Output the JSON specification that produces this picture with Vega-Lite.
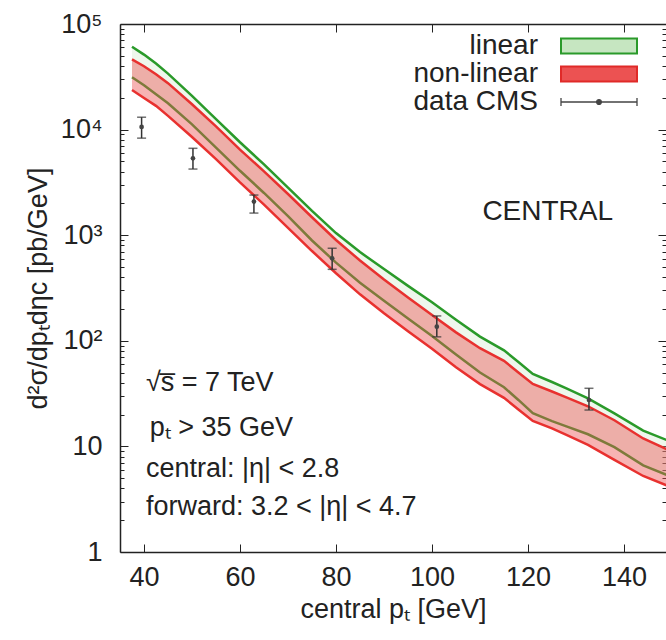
{
  "$schema": "https://vega.github.io/schema/vega-lite/v6.json",
  "width": 546,
  "height": 528,
  "autosize": {"type": "none"},
  "padding": {"left": 120, "top": 24, "right": 0, "bottom": 88},
  "background": "white",
  "config": {
    "view": {"stroke": null},
    "font": "Liberation Sans",
    "axis": {"labelColor": "#222", "titleColor": "#222", "tickColor": "#222", "domainColor": "#222", "grid": false, "titleFontWeight": "normal"},
    "text": {"font": "Liberation Sans"}
  },
  "datasets": {
    "bands": [
      {"pt": 37.5, "lin_hi": 60950, "nl_hi": 46240, "lin_lo": 31260, "nl_lo": 23710},
      {"pt": 40, "lin_hi": 51290, "nl_hi": 39810, "lin_lo": 26300, "nl_lo": 19950},
      {"pt": 42.5, "lin_hi": 42170, "nl_hi": 33500, "lin_lo": 21630, "nl_lo": 16790},
      {"pt": 45, "lin_hi": 33880, "nl_hi": 27540, "lin_lo": 17780, "nl_lo": 13490},
      {"pt": 50, "lin_hi": 20890, "nl_hi": 17380, "lin_lo": 11220, "nl_lo": 8511},
      {"pt": 55, "lin_hi": 12590, "nl_hi": 10720, "lin_lo": 6761, "nl_lo": 5248},
      {"pt": 60, "lin_hi": 7586, "nl_hi": 6457, "lin_lo": 4074, "nl_lo": 3162},
      {"pt": 65, "lin_hi": 4677, "nl_hi": 4027, "lin_lo": 2512, "nl_lo": 1950},
      {"pt": 70, "lin_hi": 2818, "nl_hi": 2455, "lin_lo": 1514, "nl_lo": 1175},
      {"pt": 75, "lin_hi": 1698, "nl_hi": 1479, "lin_lo": 891.3, "nl_lo": 707.9},
      {"pt": 80, "lin_hi": 1047, "nl_hi": 901.6, "lin_lo": 549.5, "nl_lo": 436.5},
      {"pt": 85, "lin_hi": 691.8, "nl_hi": 575.4, "lin_lo": 354.8, "nl_lo": 275.4},
      {"pt": 90, "lin_hi": 478.6, "nl_hi": 380.2, "lin_lo": 239.9, "nl_lo": 182.0},
      {"pt": 95, "lin_hi": 331.1, "nl_hi": 257.0, "lin_lo": 162.2, "nl_lo": 123.0},
      {"pt": 100, "lin_hi": 231.7, "nl_hi": 175.8, "lin_lo": 110.9, "nl_lo": 84.14},
      {"pt": 105, "lin_hi": 158.5, "nl_hi": 120.2, "lin_lo": 74.13, "nl_lo": 56.23},
      {"pt": 110, "lin_hi": 109.6, "nl_hi": 85.11, "lin_lo": 50.12, "nl_lo": 38.9},
      {"pt": 115, "lin_hi": 81.28, "nl_hi": 64.57, "lin_lo": 36.31, "nl_lo": 28.84},
      {"pt": 118, "lin_hi": 63.1, "nl_hi": 50.12, "lin_lo": 27.54, "nl_lo": 22.39},
      {"pt": 121, "lin_hi": 48.5, "nl_hi": 39.0, "lin_lo": 20.6, "nl_lo": 17.4},
      {"pt": 125, "lin_hi": 40.74, "nl_hi": 33.11, "lin_lo": 17.38, "nl_lo": 14.79},
      {"pt": 128, "lin_hi": 35.48, "nl_hi": 29.17, "lin_lo": 15.49, "nl_lo": 12.88},
      {"pt": 132.5, "lin_hi": 28.51, "nl_hi": 23.99, "lin_lo": 13.03, "nl_lo": 10.35},
      {"pt": 138, "lin_hi": 20.56, "nl_hi": 17.7, "lin_lo": 9.84, "nl_lo": 7.46},
      {"pt": 144, "lin_hi": 14.13, "nl_hi": 11.89, "lin_lo": 6.607, "nl_lo": 5.248},
      {"pt": 150, "lin_hi": 10.96, "nl_hi": 8.91, "lin_lo": 5.13, "nl_lo": 4.07}
    ],
    "cms": [
      {"pt": 39.5, "val": 10600, "lo": 8300, "hi": 13100},
      {"pt": 50.2, "val": 5350, "lo": 4230, "hi": 6650},
      {"pt": 62.9, "val": 2080, "lo": 1620, "hi": 2400},
      {"pt": 79.2, "val": 604, "lo": 475, "hi": 752},
      {"pt": 101, "val": 136, "lo": 109, "hi": 172},
      {"pt": 132.7, "val": 27.5, "lo": 22.1, "hi": 35.5}
    ]
  },
  "resolve": {"axis": {"x": "independent", "y": "independent"}},
  "layer": [
    {
      "data": {"name": "bands"},
      "mark": {"type": "area", "clip": true, "fillOpacity": 0.3},
      "encoding": {
        "x": {"field": "pt", "type": "quantitative",
          "scale": {"domain": [35, 148.75], "nice": false, "zero": false},
          "axis": {"orient": "bottom", "values": [40, 60, 80, 100, 120, 140], "ticks": false, "domain": true, "domainWidth": 1.5, "labelFontSize": 27, "labelPadding": 12, "labelFlush": false, "title": "central pₜ [GeV]", "titleFontSize": 27, "titlePadding": 6}},
        "y": {"field": "lin_lo", "type": "quantitative",
          "scale": {"type": "log", "domain": [1, 100000], "nice": false},
          "axis": {"orient": "left", "values": [1, 10, 100, 1000, 10000, 100000], "ticks": false, "domain": true, "domainWidth": 1.5, "labelFontSize": 27, "labelPadding": 18, "labelFlush": false, "labelOverlap": false,
            "labelExpr": "datum.value < 5 ? '1' : datum.value < 50 ? '10' : datum.value < 500 ? '10²' : datum.value < 5000 ? '10³' : datum.value < 50000 ? '10⁴' : '10⁵'",
            "title": "d²σ/dpₜdηc [pb/GeV]", "titleFontSize": 27, "titlePadding": 8}},
        "y2": {"field": "lin_hi"},
        "fill": {"datum": "linear", "type": "nominal",
          "scale": {"domain": ["linear", "non-linear", "data CMS"], "range": ["#c6e6c1", "#ec5252", "#444444"]},
          "legend": {"orient": "none", "legendX": 465, "legendY": 8, "title": null, "padding": 0, "labelFontSize": 28, "labelColor": "#222", "labelAlign": "right", "labelOffset": -75, "symbolSize": 361, "rowPadding": 0,
            "encode": {"symbols": {"update": {
              "shape": {"signal": "datum.value === 'data CMS' ? 'M-4,0H4M-4,-0.42V0.42M4,-0.42V0.42M0.25,0A0.25,0.25 0 1,1 -0.25,0A0.25,0.25 0 1,1 0.25,0Z' : 'M-4,-0.8H4V0.8H-4Z'"},
              "stroke": {"signal": "datum.value === 'linear' ? '#2a9a2a' : datum.value === 'non-linear' ? '#e02a28' : '#444444'"},
              "strokeWidth": {"signal": "datum.value === 'data CMS' ? 1.3 : 2"},
              "fillOpacity": {"value": 1},
              "opacity": {"value": 1}
            }}}}
        }
      }
    },
    {
      "data": {"name": "bands"},
      "mark": {"type": "line", "clip": true, "color": "#2a9a2a", "strokeWidth": 2.5},
      "encoding": {
        "x": {"field": "pt", "type": "quantitative", "axis": {"orient": "top", "values": [40, 60, 80, 100, 120, 140], "labels": false, "tickSize": -8, "domain": true, "domainWidth": 1.5, "title": null}},
        "y": {"field": "lin_hi", "type": "quantitative", "axis": {"orient": "right", "values": [1, 10, 100, 1000, 10000, 100000], "labels": false, "tickSize": -8, "domain": false, "title": null}}
      }
    },
    {
      "data": {"name": "bands"},
      "mark": {"type": "line", "clip": true, "color": "#2a9a2a", "strokeWidth": 2.5},
      "encoding": {
        "x": {"field": "pt", "type": "quantitative", "axis": {"orient": "bottom", "values": [40, 60, 80, 100, 120, 140], "labels": false, "tickSize": -8, "domain": false, "title": null}},
        "y": {"field": "lin_lo", "type": "quantitative", "axis": {"orient": "left", "values": [1, 10, 100, 1000, 10000, 100000], "labels": false, "tickSize": -8, "domain": false, "title": null}}
      }
    },
    {
      "data": {"name": "bands"},
      "mark": {"type": "area", "clip": true, "fillOpacity": 0.44},
      "encoding": {
        "x": {"field": "pt", "type": "quantitative", "axis": null},
        "y": {"field": "nl_lo", "type": "quantitative", "axis": {"orient": "left", "values": [2,3,4,5,6,7,8,9,20,30,40,50,60,70,80,90,200,300,400,500,600,700,800,900,2000,3000,4000,5000,6000,7000,8000,9000,20000,30000,40000,50000,60000,70000,80000,90000], "labels": false, "tickSize": -4, "domain": false, "title": null}},
        "y2": {"field": "nl_hi"},
        "fill": {"datum": "non-linear", "type": "nominal"}
      }
    },
    {
      "data": {"name": "bands"},
      "mark": {"type": "line", "clip": true, "color": "#e8312f", "strokeWidth": 2.5},
      "encoding": {
        "x": {"field": "pt", "type": "quantitative", "axis": null},
        "y": {"field": "nl_hi", "type": "quantitative", "axis": {"orient": "right", "values": [2,3,4,5,6,7,8,9,20,30,40,50,60,70,80,90,200,300,400,500,600,700,800,900,2000,3000,4000,5000,6000,7000,8000,9000,20000,30000,40000,50000,60000,70000,80000,90000], "labels": false, "tickSize": -4, "domain": false, "title": null}}
      }
    },
    {
      "data": {"name": "bands"},
      "mark": {"type": "line", "clip": true, "color": "#e8312f", "strokeWidth": 2.5},
      "encoding": {
        "x": {"field": "pt", "type": "quantitative", "axis": null},
        "y": {"field": "nl_lo", "type": "quantitative", "axis": null}
      }
    },
    {
      "data": {"name": "cms"},
      "mark": {"type": "rule", "color": "#333", "strokeWidth": 1.5},
      "encoding": {
        "x": {"field": "pt", "type": "quantitative", "axis": null},
        "y": {"field": "lo", "type": "quantitative", "axis": null},
        "y2": {"field": "hi"}
      }
    },
    {
      "data": {"name": "cms"},
      "mark": {"type": "tick", "orient": "horizontal", "size": 9, "thickness": 1.5, "color": "#333"},
      "encoding": {
        "x": {"field": "pt", "type": "quantitative", "axis": null},
        "y": {"field": "lo", "type": "quantitative", "axis": null}
      }
    },
    {
      "data": {"name": "cms"},
      "mark": {"type": "tick", "orient": "horizontal", "size": 9, "thickness": 1.5, "color": "#333"},
      "encoding": {
        "x": {"field": "pt", "type": "quantitative", "axis": null},
        "y": {"field": "hi", "type": "quantitative", "axis": null}
      }
    },
    {
      "data": {"name": "cms"},
      "mark": {"type": "point", "filled": true, "size": 22, "opacity": 1},
      "encoding": {
        "x": {"field": "pt", "type": "quantitative", "axis": null},
        "y": {"field": "val", "type": "quantitative", "axis": null},
        "fill": {"datum": "data CMS", "type": "nominal"}
      }
    },
    {
      "data": {"values": [{}]},
      "mark": {"type": "text", "text": "CENTRAL", "align": "left", "baseline": "middle", "fontSize": 28, "color": "#222"},
      "encoding": {
        "x": {"datum": 110.5, "type": "quantitative", "axis": null},
        "y": {"datum": 1660, "type": "quantitative", "axis": null}
      }
    },
    {
      "data": {"values": [{}]},
      "mark": {"type": "text", "text": "√s̅ = 7 TeV", "align": "left", "baseline": "middle", "fontSize": 27, "color": "#222"},
      "encoding": {
        "x": {"datum": 40.4, "type": "quantitative", "axis": null},
        "y": {"datum": 39.8, "type": "quantitative", "axis": null}
      }
    },
    {
      "data": {"values": [{}]},
      "mark": {"type": "text", "text": "pₜ > 35 GeV", "align": "left", "baseline": "middle", "fontSize": 27, "color": "#222"},
      "encoding": {
        "x": {"datum": 41.2, "type": "quantitative", "axis": null},
        "y": {"datum": 14.9, "type": "quantitative", "axis": null}
      }
    },
    {
      "data": {"values": [{}]},
      "mark": {"type": "text", "text": "central: |η| < 2.8", "align": "left", "baseline": "middle", "fontSize": 27, "color": "#222"},
      "encoding": {
        "x": {"datum": 40.4, "type": "quantitative", "axis": null},
        "y": {"datum": 6.11, "type": "quantitative", "axis": null}
      }
    },
    {
      "data": {"values": [{}]},
      "mark": {"type": "text", "text": "forward: 3.2 < |η| < 4.7", "align": "left", "baseline": "middle", "fontSize": 27, "color": "#222"},
      "encoding": {
        "x": {"datum": 40.4, "type": "quantitative", "axis": null},
        "y": {"datum": 2.67, "type": "quantitative", "axis": null}
      }
    }
  ]
}
